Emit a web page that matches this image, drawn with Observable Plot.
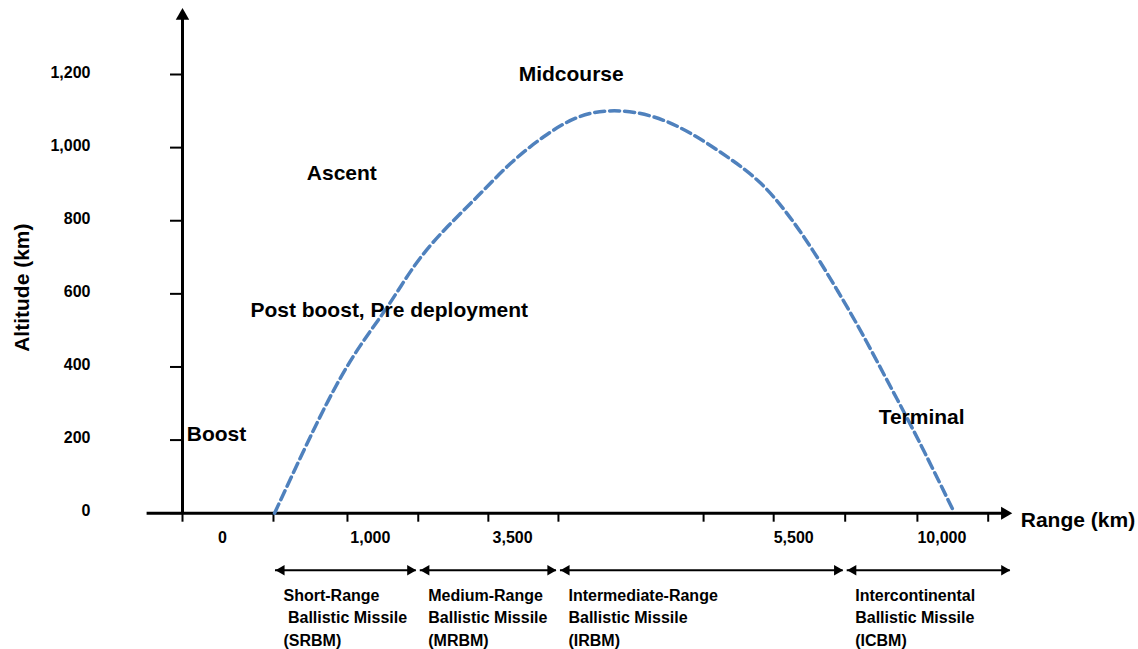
<!DOCTYPE html>
<html><head><meta charset="utf-8">
<script src="https://cdn.jsdelivr.net/npm/d3@7"></script>
<script src="https://cdn.jsdelivr.net/npm/@observablehq/plot@0.6"></script>
<style>body{margin:0;background:#fff}</style>
</head><body><div id="chart"></div>
<script>
// Altitude axis ticks (km)
const yTicks = [0, 200, 400, 600, 800, 1000, 1200];
// Schematic range positions of the tick marks on the range axis
const xTicks = [0, 1.285, 2.33, 3.33, 4.32, 5.31, 7.36, 8.35, 9.36, 10.38, 11.38];
const xLabels = ["0", "1,000", "3,500", "5,500", "10,000"];
const xLabelPos = [0.5, 2.37, 4.38, 8.35, 10.38];
// Trajectory (schematic range position, altitude km)
const trajX = [1.3, 1.71, 2.05, 2.42, 2.84, 3.08, 3.36, 3.74, 4.17, 4.63, 5.10, 5.58, 6.09, 6.65, 7.18, 7.70, 8.16, 8.55, 8.91, 9.25, 9.58, 9.90, 10.18, 10.47, 10.88];
const trajAlt = [0, 171, 308, 437, 547, 620, 703, 785, 866, 960, 1032, 1090, 1106, 1090, 1042, 975, 910, 820, 719, 610, 500, 382, 281, 172, 10];
// Flight phases
const phaseNames = ["Boost", "Post boost, Pre deployment", "Ascent", "Midcourse", "Terminal"];
const phaseX = [0.48, 2.92, 2.25, 5.49, 10.44];
const phaseAlt = [215, 554, 931, 1201, 262];
// Missile classes
const classNames = [
  "Short-Range\n Ballistic Missile\n(SRBM)",
  "Medium-Range\nBallistic Missile\n(MRBM)",
  "Intermediate-Range\nBallistic Missile\n(IRBM)",
  "Intercontinental\nBallistic Missile\n(ICBM)"
];
const classFrom = [1.285, 3.33, 5.31, 9.36];
const classTo = [3.33, 5.31, 9.36, 11.72];

const traj = trajX.map((x, i) => ({x, alt: trajAlt[i]}));
const phases = phaseNames.map((name, i) => ({name, x: phaseX[i], alt: phaseAlt[i]}));
const classes = classNames.map((name, i) => ({name, from: classFrom[i], to: classTo[i]}));
const xLab = xLabels.map((t, i) => ({t, x: xLabelPos[i]}));

const FONT = "Liberation Sans, Arial, sans-serif";
const zero = () => 0;
const triR = 3.9, triOff = 1.555 * triR;

const chart = Plot.plot({
  width: 1138,
  height: 649,
  marginLeft: 182,
  marginRight: 177.2,
  marginTop: 74,
  marginBottom: 136.3,
  style: {fontFamily: FONT, background: "#fff", color: "#000", overflow: "visible"},
  x: {domain: [0, 11]},
  y: {domain: [0, 1200]},
  marks: [
    // axis ticks
    Plot.axisX({ticks: xTicks, tickSize: 9, tickFormat: () => "", strokeWidth: 2, label: null}),
    Plot.axisY({ticks: yTicks, tickSize: 12, tickFormat: () => "", strokeWidth: 2, label: null}),
    Plot.text(yTicks, {x: zero, y: d => d, text: d3.format(","), dx: -92, dy: -2, textAnchor: "end", fontSize: 16, fontWeight: "bold"}),
    // axis lines
    Plot.ruleY([0], {x1: -0.5, x2: 11.6, strokeWidth: 3}),
    Plot.ruleX([0], {y1: 0, y2: 1355, strokeWidth: 3}),
    Plot.dot([0], {x: 11.72, y: zero, symbol: "triangle", r: 4.8, rotate: 90, fill: "#000", stroke: "none", dx: -1.555 * 4.8}),
    Plot.dot([0], {x: zero, y: 1382, symbol: "triangle", r: 5, fill: "#000", stroke: "none", dy: 1.555 * 5}),
    // x tick labels
    Plot.text(xLab, {x: "x", y: zero, text: "t", dy: 25, textAnchor: "start", fontSize: 16, fontWeight: "bold"}),
    // trajectory
    Plot.line(traj, {x: "x", y: "alt", stroke: "#4f81bd", strokeWidth: 3.5, strokeDasharray: "10,5", curve: "basis"}),
    // phase labels
    Plot.text(phases, {x: "x", y: "alt", text: "name", fontSize: 21, fontWeight: "bold", textAnchor: "middle"}),
    // axis titles
    Plot.text(["Altitude (km)"], {x: -2.26, y: 617, text: d => d, rotate: -90, fontSize: 21, fontWeight: "bold"}),
    Plot.text(["Range (km)"], {x: 11.84, y: -20, text: d => d, textAnchor: "start", fontSize: 21, fontWeight: "bold"}),
    // missile class arrows
    Plot.ruleY(classes, {x1: "from", x2: "to", y: zero, dy: 57, strokeWidth: 2, insetLeft: 2, insetRight: 2}),
    Plot.dot(classes, {x: "from", y: zero, dy: 57, dx: 2 + triOff, symbol: "triangle", r: triR, rotate: -90, fill: "#000", stroke: "none"}),
    Plot.dot(classes, {x: "to", y: zero, dy: 57, dx: -2 - triOff, symbol: "triangle", r: triR, rotate: 90, fill: "#000", stroke: "none"}),
    Plot.text(classes, {x: "from", y: zero, text: "name", dy: 103, dx: 10, textAnchor: "start", lineAnchor: "middle", lineHeight: 1.42, fontSize: 16, fontWeight: "bold"})
  ]
});
document.getElementById("chart").appendChild(chart);
</script>
</body></html>
